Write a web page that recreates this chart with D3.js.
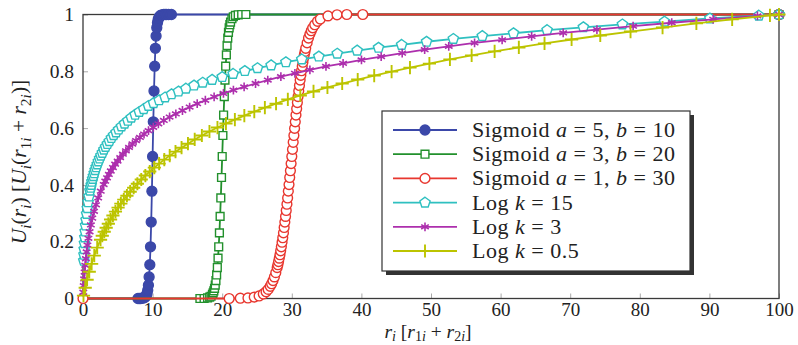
<!DOCTYPE html>
<html>
<head>
<meta charset="utf-8">
<script src="https://cdn.jsdelivr.net/npm/d3@7"></script>
<style>
  body { margin: 0; background: #fff; }
  svg { display: block; font-family: "Liberation Serif", "Times New Roman", serif; }
</style>
</head>
<body>
<svg id="chart" width="798" height="345"></svg>
<script>
// tick values
const xTicks = [0, 10, 20, 30, 40, 50, 60, 70, 80, 90, 100];
const yTicks = [0, 0.2, 0.4, 0.6, 0.8, 1];

// Sigmoid a = 5, b = 10
const sig1R = [0, 7.9, 8.1, 8.3, 8.5, 8.7, 8.9, 9.0, 9.1, 9.2, 9.3, 9.4, 9.5, 9.6, 9.7, 9.8, 9.9, 10.0, 10.1, 10.2, 10.3, 10.4, 10.5, 10.6, 10.7, 10.8, 10.9, 11.0, 11.2, 11.4, 11.6, 11.8, 12.0, 12.3, 12.7, 100];
const sig1U = [0, 0, 0, 0, 0.001, 0.002, 0.004, 0.007, 0.011, 0.018, 0.029, 0.047, 0.076, 0.119, 0.182, 0.269, 0.378, 0.5, 0.622, 0.731, 0.818, 0.881, 0.924, 0.953, 0.971, 0.982, 0.989, 0.993, 0.998, 0.999, 1, 1, 1, 1, 1, 1];

// Sigmoid a = 3, b = 20
const sig2R = [0, 16.8, 17.4, 17.9, 18.2, 18.4, 18.6, 18.7, 18.8, 18.9, 19.0, 19.1, 19.2, 19.3, 19.4, 19.5, 19.6, 19.7, 19.8, 19.9, 20.0, 20.1, 20.2, 20.3, 20.4, 20.5, 20.6, 20.7, 20.8, 20.9, 21.0, 21.1, 21.2, 21.4, 21.6, 21.9, 22.3, 22.8, 23.4, 100];
const sig2U = [0, 0, 0, 0.002, 0.005, 0.008, 0.015, 0.020, 0.027, 0.036, 0.047, 0.063, 0.083, 0.109, 0.142, 0.182, 0.231, 0.289, 0.354, 0.426, 0.5, 0.574, 0.646, 0.711, 0.769, 0.818, 0.858, 0.891, 0.917, 0.937, 0.953, 0.964, 0.973, 0.985, 0.992, 0.997, 0.999, 1, 1, 1];

// Sigmoid a = 1, b = 30
const sig3R = [0, 21.0, 22.6, 23.7, 24.6, 25.3, 25.9, 26.3, 26.6, 26.9, 27.1, 27.3, 27.5, 27.7, 27.9,
  28.0, 28.1, 28.2, 28.3, 28.4, 28.5, 28.6, 28.7, 28.8, 28.9, 29.0, 29.1, 29.2, 29.3, 29.4, 29.5, 29.6, 29.7, 29.8, 29.9,
  30.0, 30.1, 30.2, 30.3, 30.4, 30.5, 30.6, 30.7, 30.8, 30.9, 31.0, 31.1, 31.2, 31.3, 31.4, 31.5, 31.6, 31.7, 31.8, 31.9, 32.0,
  32.2, 32.4, 32.6, 32.8, 33.0, 33.3, 33.7, 34.1, 35.2, 36.5, 37.9, 40.2, 100];
const sig3U = [0, 0, 0.001, 0.002, 0.005, 0.009, 0.016, 0.024, 0.032, 0.043, 0.052, 0.063, 0.076, 0.091, 0.109,
  0.119, 0.130, 0.142, 0.154, 0.168, 0.182, 0.198, 0.214, 0.231, 0.250, 0.269, 0.289, 0.310, 0.332, 0.354, 0.378, 0.401, 0.426, 0.450, 0.475,
  0.5, 0.525, 0.550, 0.574, 0.599, 0.622, 0.646, 0.668, 0.690, 0.711, 0.731, 0.750, 0.769, 0.786, 0.802, 0.818, 0.832, 0.846, 0.858, 0.870, 0.881,
  0.900, 0.917, 0.931, 0.943, 0.953, 0.964, 0.976, 0.984, 0.995, 0.999, 1, 1, 1];

// Log k = 15
const log15R = [0.11, 0.14, 0.17, 0.21, 0.26, 0.31, 0.37, 0.44, 0.52, 0.62, 0.73, 0.86, 1.0, 1.09, 1.18, 1.27, 1.38, 1.49, 1.61, 1.74, 1.89, 2.04, 2.2, 2.38, 2.57, 2.78, 3.0, 3.24, 3.5, 3.78, 4.08, 4.4, 4.75, 5.12, 5.53, 5.97, 6.44, 6.94, 7.49, 8.08, 8.72, 9.4, 10.14, 10.94, 11.79, 12.72, 13.72, 14.79, 15.95, 17.2, 18.55, 20.0, 21.57, 23.25, 25.07, 27.03, 29.15, 31.43, 33.88, 36.53, 39.39, 42.46, 45.78, 49.36, 53.21, 57.37, 61.85, 66.68, 71.89, 77.5, 83.55, 90.07, 97.1, 100];
const log15U = [0.133, 0.154, 0.174, 0.195, 0.215, 0.236, 0.257, 0.277, 0.298, 0.318, 0.339, 0.359, 0.380, 0.390, 0.400, 0.411, 0.421, 0.431, 0.441, 0.452, 0.462, 0.472, 0.483, 0.493, 0.503, 0.513, 0.524, 0.534, 0.544, 0.554, 0.565, 0.575, 0.585, 0.595, 0.606, 0.616, 0.626, 0.637, 0.647, 0.657, 0.667, 0.678, 0.688, 0.698, 0.708, 0.719, 0.729, 0.739, 0.750, 0.760, 0.770, 0.780, 0.791, 0.801, 0.811, 0.821, 0.832, 0.842, 0.852, 0.862, 0.873, 0.883, 0.893, 0.904, 0.914, 0.924, 0.934, 0.945, 0.955, 0.965, 0.975, 0.986, 0.996, 1];

// Log k = 3
const log3R = [0.04, 0.1, 0.16, 0.23, 0.32, 0.41, 0.52, 0.64, 0.78, 0.95, 1.13, 1.34, 1.59, 1.87, 2.18, 2.55, 2.97, 3.2, 3.45, 3.71, 3.99, 4.3, 4.62, 4.97, 5.34, 5.73, 6.16, 6.61, 7.1, 7.62, 8.18, 8.77, 9.41, 10.1, 10.83, 11.61, 12.44, 13.34, 14.29, 15.32, 16.41, 17.58, 18.84, 20.18, 21.61, 23.15, 24.79, 26.55, 28.43, 30.45, 32.6, 34.91, 37.37, 40.01, 42.84, 45.86, 49.09, 52.55, 56.26, 60.22, 64.46, 68.99, 73.84, 79.04, 84.59, 90.54, 96.9, 100];
const log3U = [0.022, 0.045, 0.069, 0.093, 0.117, 0.140, 0.164, 0.188, 0.212, 0.235, 0.259, 0.283, 0.307, 0.330, 0.354, 0.378, 0.401, 0.413, 0.425, 0.437, 0.449, 0.461, 0.473, 0.484, 0.496, 0.508, 0.520, 0.532, 0.544, 0.556, 0.567, 0.579, 0.591, 0.603, 0.615, 0.627, 0.639, 0.650, 0.662, 0.674, 0.686, 0.698, 0.710, 0.722, 0.734, 0.745, 0.757, 0.769, 0.781, 0.793, 0.805, 0.817, 0.828, 0.840, 0.852, 0.864, 0.876, 0.888, 0.900, 0.911, 0.923, 0.935, 0.947, 0.959, 0.971, 0.983, 0.995, 1];

// Log k = 0.5
const log05R = [0.07, 0.32, 0.59, 0.9, 1.24, 1.62, 2.04, 2.52, 2.77, 3.05, 3.33, 3.64, 3.96, 4.3, 4.66, 5.04, 5.44, 5.86, 6.31, 6.78, 7.28, 7.81, 8.37, 8.96, 9.59, 10.25, 10.94, 11.68, 12.46, 13.29, 14.16, 15.08, 16.05, 17.08, 18.17, 19.32, 20.54, 21.82, 23.18, 24.61, 26.13, 27.74, 29.43, 31.22, 33.12, 35.12, 37.24, 39.47, 41.84, 44.34, 46.98, 49.77, 52.72, 55.84, 59.14, 62.62, 66.31, 70.2, 74.32, 78.67, 83.27, 88.13, 93.27, 98.7, 100];
const log05U = [0.010, 0.038, 0.066, 0.094, 0.122, 0.151, 0.179, 0.207, 0.221, 0.235, 0.249, 0.263, 0.278, 0.292, 0.306, 0.320, 0.334, 0.348, 0.362, 0.376, 0.390, 0.404, 0.419, 0.433, 0.447, 0.461, 0.475, 0.489, 0.503, 0.517, 0.531, 0.545, 0.560, 0.574, 0.588, 0.602, 0.616, 0.630, 0.644, 0.658, 0.672, 0.686, 0.701, 0.715, 0.729, 0.743, 0.757, 0.771, 0.785, 0.799, 0.813, 0.827, 0.842, 0.856, 0.870, 0.884, 0.898, 0.912, 0.926, 0.940, 0.954, 0.969, 0.983, 0.997, 1];

// legend labels: [text, style] with style n = normal, i = italic
const labels = [
  [["Sigmoid ", "n"], ["a", "i"], [" = 5, ", "n"], ["b", "i"], [" = 10", "n"]],
  [["Sigmoid ", "n"], ["a", "i"], [" = 3, ", "n"], ["b", "i"], [" = 20", "n"]],
  [["Sigmoid ", "n"], ["a", "i"], [" = 1, ", "n"], ["b", "i"], [" = 30", "n"]],
  [["Log ", "n"], ["k", "i"], [" = 15", "n"]],
  [["Log ", "n"], ["k", "i"], [" = 3", "n"]],
  [["Log ", "n"], ["k", "i"], [" = 0.5", "n"]]
];

// marker shapes, size = radius^2
const circle = { draw(ctx, s) { const r = Math.sqrt(s); ctx.moveTo(r, 0); ctx.arc(0, 0, r, 0, 2 * Math.PI); } };
const square = { draw(ctx, s) { const r = Math.sqrt(s); ctx.rect(-r, -r, 2 * r, 2 * r); } };
const pentagon = { draw(ctx, s) {
  const r = Math.sqrt(s);
  for (let i = 0; i < 5; i++) {
    const a = -Math.PI / 2 + i * 2 * Math.PI / 5;
    i ? ctx.lineTo(r * Math.cos(a), r * Math.sin(a)) : ctx.moveTo(r * Math.cos(a), r * Math.sin(a));
  }
  ctx.closePath();
} };
const asterisk = { draw(ctx, s) {
  const r = Math.sqrt(s);
  for (let i = 0; i < 3; i++) {
    const a = Math.PI / 2 + i * Math.PI / 3;
    ctx.moveTo(r * Math.cos(a), r * Math.sin(a));
    ctx.lineTo(-r * Math.cos(a), -r * Math.sin(a));
  }
} };
const plus = { draw(ctx, s) { const r = Math.sqrt(s); ctx.moveTo(-r, 0); ctx.lineTo(r, 0); ctx.moveTo(0, -r); ctx.lineTo(0, r); } };

const series = [
  { r: sig1R, u: sig1U, color: "#3b48a9", shape: circle, size: 5 ** 2, fill: "#3b48a9", sw: 1.3, skip0: true },
  { r: sig2R, u: sig2U, color: "#22902c", shape: square, size: 3.9 ** 2, fill: "#fff", sw: 1.4, skip0: true },
  { r: sig3R, u: sig3U, color: "#e8372f", shape: circle, size: 4.9 ** 2, fill: "#fff", sw: 1.4 },
  { r: log15R, u: log15U, color: "#2fc0c0", shape: pentagon, size: 5.4 ** 2, fill: "#fff", sw: 1.4 },
  { r: log3R, u: log3U, color: "#ad2fad", shape: asterisk, size: 4.4 ** 2, fill: "none", sw: 1.6 },
  { r: log05R, u: log05U, color: "#bcc400", shape: plus, size: 6.6 ** 2, fill: "none", sw: 1.9 }
];

const svg = d3.select("#chart");
const x = d3.scaleLinear().domain([0, 100]).range([83, 779]);
const y = d3.scaleLinear().domain([0, 1]).range([298.5, 14.5]);

// axes with inward ticks
const gx = svg.append("g").attr("transform", "translate(0,298.5)")
  .call(d3.axisBottom(x).tickValues(xTicks).tickSize(-5).tickPadding(3.5).tickFormat(d => String(d)));
const gy = svg.append("g").attr("transform", "translate(83,0)")
  .call(d3.axisLeft(y).tickValues(yTicks).tickSize(-5).tickPadding(9).tickFormat(d => String(d)));
[gx, gy].forEach(g => {
  g.attr("font-family", "Liberation Serif, Times New Roman, serif").attr("font-size", 19.5);
  g.select(".domain").remove();
  g.selectAll(".tick line").attr("stroke", "#aaa");
  g.selectAll(".tick text").attr("fill", "#222");
});
gx.attr("font-size", 19);

svg.append("rect")
  .attr("x", x(0)).attr("y", y(1))
  .attr("width", x(100) - x(0)).attr("height", y(0) - y(1))
  .attr("fill", "none").attr("stroke", "#3a3a3a").attr("stroke-width", 1.3);

const line = d3.line().x(d => x(d[0])).y(d => y(d[1]));

series.forEach(s => {
  const pts = d3.zip(s.r, s.u);
  svg.append("path").datum(pts)
    .attr("d", line)
    .attr("fill", "none").attr("stroke", s.color).attr("stroke-width", 1.8);
  svg.append("g").selectAll("path")
    .data(s.skip0 ? pts.slice(1) : pts)
    .join("path")
    .attr("transform", d => `translate(${x(d[0])},${y(d[1])})`)
    .attr("d", d3.symbol(s.shape, s.size))
    .attr("fill", s.fill).attr("stroke", s.color).attr("stroke-width", s.sw);
});

// rich text helper: i italic, s subscript, si italic subscript
function rich(text, segs, size, drop = 0.25) {
  let shift = 0;
  segs.forEach(([str, st]) => {
    const sub = st === "s" || st === "si";
    const target = sub ? size * drop : 0;
    text.append("tspan")
      .attr("dy", target - shift)
      .style("font-style", st === "i" || st === "si" ? "italic" : "normal")
      .style("font-size", (sub ? size * 0.72 : size) + "px")
      .text(str);
    shift = target;
  });
}

// axis titles
const xt = svg.append("text").attr("x", 428).attr("y", 337.5).attr("text-anchor", "middle").attr("fill", "#222");
rich(xt, [["r", "i"], ["i", "si"], [" [", "n"], ["r", "i"], ["1", "s"], ["i", "si"], [" + ", "n"], ["r", "i"], ["2", "s"], ["i", "si"], ["]", "n"]], 19.5, 0.2);

const yt = svg.append("text").attr("transform", "translate(26,162) rotate(-90)").attr("text-anchor", "middle").attr("fill", "#222");
rich(yt, [["U", "i"], ["i", "si"], ["(", "n"], ["r", "i"], ["i", "si"], [") [", "n"], ["U", "i"], ["i", "si"], ["(", "n"], ["r", "i"], ["1", "s"], ["i", "si"], [" + ", "n"], ["r", "i"], ["2", "s"], ["i", "si"], [")]", "n"]], 21.5);

// legend
const lg = svg.append("g");
lg.append("rect").attr("x", 386).attr("y", 115).attr("width", 308).attr("height", 160).attr("fill", "#333");
lg.append("rect").attr("x", 382).attr("y", 111).attr("width", 308).attr("height", 160)
  .attr("fill", "#fff").attr("stroke", "#333").attr("stroke-width", 1.2);
series.forEach((s, i) => {
  const cy = 130 + i * 24.2;
  lg.append("line").attr("x1", 393).attr("x2", 457).attr("y1", cy).attr("y2", cy)
    .attr("stroke", s.color).attr("stroke-width", 1.8);
  lg.append("path").attr("transform", `translate(425,${cy})`)
    .attr("d", d3.symbol(s.shape, s.size))
    .attr("fill", s.fill).attr("stroke", s.color).attr("stroke-width", s.sw);
  const t = lg.append("text").attr("x", 472).attr("y", cy + 7).attr("fill", "#222").style("letter-spacing", "0.5px");
  rich(t, labels[i], 22);
});
</script>
</body>
</html>
